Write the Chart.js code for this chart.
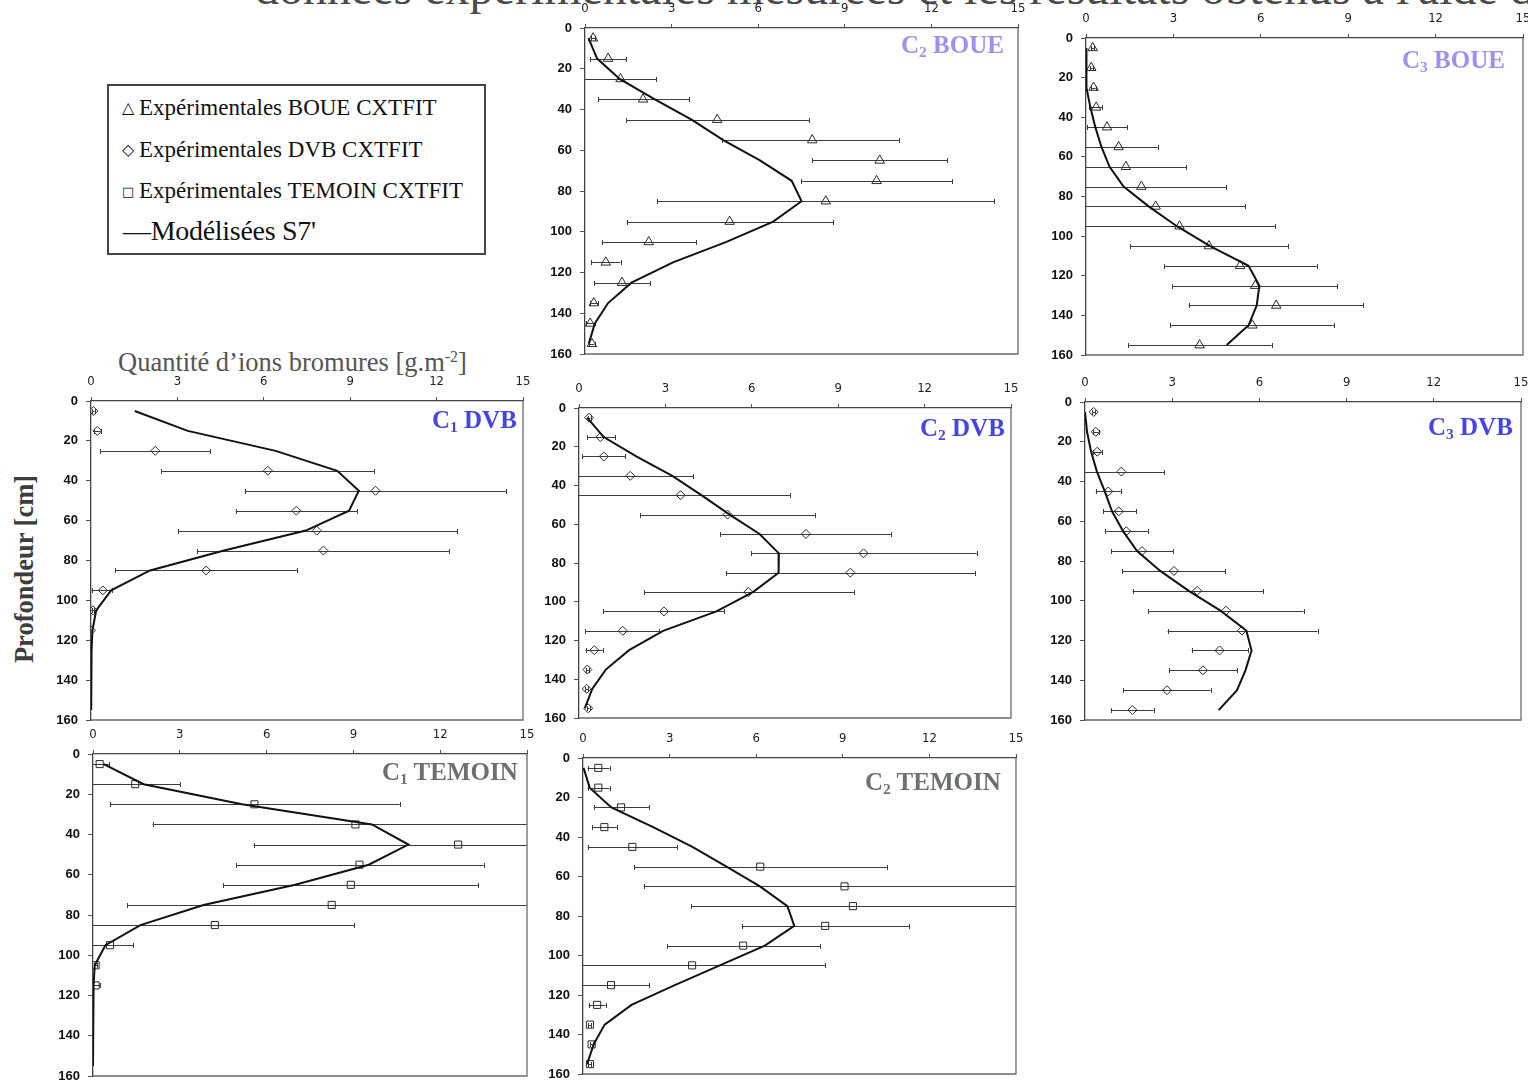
<!DOCTYPE html>
<html><head><meta charset="utf-8">
<script src="https://cdn.jsdelivr.net/npm/chart.js@4.4.1/dist/chart.umd.min.js"></script>
<style>
html,body{margin:0;padding:0;background:#fff}
body{width:1528px;height:1081px;position:relative;overflow:hidden;font-family:'Liberation Serif','Times New Roman',serif}
canvas{position:absolute}
.t{position:absolute;white-space:nowrap;line-height:1}
.pt{position:absolute;white-space:nowrap;line-height:1;font-weight:bold;font-size:25px;font-family:'Liberation Serif',serif}
.pt sub{font-size:0.62em;vertical-align:-0.28em;line-height:0}
.sym{font-family:'DejaVu Sans',sans-serif;display:inline-block;width:17px;line-height:0}
</style></head>
<body>
<div class="t" style="left:255px;top:-36px;font-size:48px;color:#4a4a4a">données expérimentales mesurées et les résultats obtenus à l'aide du modèle</div>

<div style="position:absolute;left:107px;top:84px;width:375px;height:167px;border:2px solid #444"></div>
<div class="t" style="left:122px;top:96px;font-size:23px;color:#111"><span class="sym" style="font-size:16px;vertical-align:2px">△</span>Expérimentales BOUE CXTFIT</div>
<div class="t" style="left:122px;top:138px;font-size:23px;color:#111"><span class="sym" style="font-size:16px;vertical-align:2px">◇</span>Expérimentales DVB CXTFIT</div>
<div class="t" style="left:122px;top:179px;font-size:23px;color:#111"><span class="sym" style="font-size:13px;vertical-align:2px">□</span>Expérimentales TEMOIN CXTFIT</div>
<div class="t" style="left:123px;top:217px;font-size:28px;color:#111;letter-spacing:-0.3px">—Modélisées S7'</div>

<div class="t" style="left:118px;top:349px;font-size:26.5px;color:#555">Quantité d’ions bromures [g.m<sup style="font-size:0.6em;vertical-align:0.55em;line-height:0">-2</sup>]</div>
<div class="t" style="left:-96px;top:554px;width:240px;height:30px;line-height:30px;text-align:center;font-size:26.5px;font-weight:bold;color:#3d3d3d;transform:rotate(-90deg)">Profondeur [cm]</div>

<script>
// ---------- data ----------
const depths = [5,15,25,35,45,55,65,75,85,95,105,115,125,135,145,155];
const xTicks = [0,3,6,9,12,15];
const yTicks = [0,20,40,60,80,100,120,140,160];

// C2 BOUE
const c2BoueObs   = [0.28,0.80,1.23,2.01,4.58,7.87,10.21,10.10,8.34,5.01,2.21,0.72,1.28,0.30,0.18,0.24];
const c2BoueLow   = [0.20,0.16,-0.01,0.45,1.43,4.76,7.88,7.49,2.50,1.46,0.58,0.22,0.32,0.18,0.02,0.15];
const c2BoueHigh  = [0.36,1.43,2.47,3.61,7.77,10.87,12.54,12.73,14.18,8.60,3.85,1.23,2.25,0.45,0.34,0.33];
const c2BoueModel = [0.12,0.42,1.20,2.42,3.69,4.79,6.06,7.16,7.50,6.52,4.90,3.05,1.61,0.80,0.34,0.13];
// C3 BOUE
const c3BoueObs   = [0.23,0.18,0.26,0.35,0.72,1.12,1.37,1.90,2.39,3.21,4.22,5.29,5.81,6.53,5.71,3.90];
const c3BoueLow   = [0.18,0.13,0.18,0.11,0.03,-0.22,-0.70,-1.00,-0.69,-0.08,1.50,2.69,2.95,3.52,2.89,1.44];
const c3BoueHigh  = [0.28,0.23,0.33,0.55,1.41,2.46,3.44,4.80,5.47,6.50,6.93,7.92,8.63,9.52,8.51,6.37];
const c3BoueModel = [0.00,0.00,0.03,0.15,0.32,0.53,0.81,1.29,2.15,3.12,4.26,5.58,5.95,5.86,5.58,4.83];
// C1 DVB
const c1DvbObs    = [0.08,0.22,2.23,6.14,9.88,7.13,7.84,8.07,4.00,0.41,0.07,0.00];
const c1DvbLow    = [0.03,0.12,0.32,2.44,5.34,5.02,3.02,3.68,0.84,0.02,0.02,-0.05];
const c1DvbHigh   = [0.13,0.34,4.13,9.83,14.40,9.25,12.72,12.43,7.15,0.73,0.12,0.05];
const c1DvbModel  = [1.52,3.36,6.41,8.55,9.30,8.96,7.46,4.62,2.05,0.70,0.18,0.05,0.02,0.01,0.01,0.00];
// C2 DVB
const c2DvbObs    = [0.35,0.74,0.86,1.78,3.53,5.16,7.88,9.88,9.42,5.88,2.95,1.52,0.53,0.29,0.27,0.32];
const c2DvbLow    = [0.30,0.29,0.10,-0.40,-0.28,2.13,4.91,5.98,5.10,2.26,0.83,0.21,0.23,0.24,0.22,0.27];
const c2DvbHigh   = [0.40,1.25,1.60,3.96,7.34,8.21,10.83,13.81,13.75,9.56,5.05,2.79,0.83,0.34,0.32,0.37];
const c2DvbModel  = [0.28,0.86,1.99,3.24,4.25,5.23,6.27,6.94,6.93,6.04,4.77,2.92,1.74,0.93,0.46,0.20];
// C3 DVB
const c3DvbObs    = [0.30,0.37,0.42,1.25,0.80,1.16,1.42,1.96,3.06,3.86,4.85,5.40,4.63,4.06,2.82,1.63];
const c3DvbLow    = [0.24,0.27,0.26,-0.22,0.37,0.62,0.68,0.89,1.28,1.64,2.17,2.84,3.67,2.90,1.31,0.88];
const c3DvbHigh   = [0.36,0.47,0.58,2.72,1.23,1.75,2.16,3.03,4.83,6.12,7.52,8.00,5.61,5.23,4.32,2.36];
const c3DvbModel  = [0.00,0.07,0.21,0.41,0.68,0.93,1.31,1.79,2.59,3.57,4.66,5.55,5.73,5.52,5.23,4.60];
// C1 TEMOIN
const c1TemObs    = [0.23,1.46,5.58,9.07,12.62,9.21,8.91,8.25,4.21,0.59,0.09,0.09];
const c1TemLow    = [-0.09,-0.10,0.58,2.06,5.55,4.94,4.49,1.18,-0.61,-0.20,0.04,-0.07];
const c1TemHigh   = [0.55,3.02,10.60,16.10,19.70,13.50,13.32,15.30,9.03,1.38,0.14,0.25];
const c1TemModel  = [0.37,1.75,5.15,9.64,10.90,9.53,6.99,3.82,1.64,0.43,0.06,0.02,0.00,0.00,0.00,0.00];
// C2 TEMOIN
const c2TemObs    = [0.53,0.53,1.32,0.74,1.71,6.14,9.06,9.35,8.39,5.55,3.78,0.97,0.49,0.24,0.30,0.24];
const c2TemLow    = [0.16,0.16,0.37,0.31,0.16,1.78,2.10,3.75,5.50,2.92,-0.83,-0.36,0.20,0.19,0.25,0.19];
const c2TemHigh   = [0.92,0.92,2.29,1.17,3.27,10.53,16.02,15.30,11.29,8.21,8.39,2.30,0.79,0.29,0.35,0.29];
const c2TemModel  = [0.02,0.23,0.98,2.43,3.79,4.97,6.13,7.08,7.32,6.30,4.74,3.18,1.68,0.75,0.37,0.14];

// ---------- drawing ----------
const X_MIN = 0, X_MAX = 15, Y_MIN = 0, Y_MAX = 160;
const PAD_L = 50, PAD_T = 30, PAD_R = 22, PAD_B = 20;

function panel(box, obs, lo, hi, model, pstyle, prad, title, tcolor, tRight, tBase) {
  const L = Math.round(box[0]), T = Math.round(box[1]), R = Math.round(box[2]), B = Math.round(box[3]);
  const w = (R - L) + PAD_L + PAD_R, h = (B - T) + PAD_T + PAD_B;
  const cv = document.createElement('canvas');
  cv.width = w; cv.height = h;
  cv.style.left = (L - PAD_L) + 'px'; cv.style.top = (T - PAD_T) + 'px';
  cv.style.width = w + 'px'; cv.style.height = h + 'px';
  document.body.appendChild(cv);

  const errPlugin = {
    id: 'errbars',
    beforeDatasetsDraw(chart) {
      const {ctx, scales: {x, y}} = chart;
      ctx.save();
      ctx.strokeStyle = '#3d3d3d';
      ctx.lineWidth = 1;
      for (let i = 0; i < obs.length; i++) {
        const yy = Math.round(y.getPixelForValue(depths[i])) + 0.5;
        const l = Math.max(lo[i], X_MIN), r = Math.min(hi[i], X_MAX);
        const x1 = x.getPixelForValue(l), x2 = x.getPixelForValue(r);
        ctx.beginPath();
        ctx.moveTo(x1, yy); ctx.lineTo(x2, yy);
        if (lo[i] >= X_MIN) { ctx.moveTo(Math.round(x1)+0.5, yy - 2.5); ctx.lineTo(Math.round(x1)+0.5, yy + 2.5); }
        if (hi[i] <= X_MAX) { ctx.moveTo(Math.round(x2)+0.5, yy - 2.5); ctx.lineTo(Math.round(x2)+0.5, yy + 2.5); }
        ctx.stroke();
      }
      ctx.restore();
    },
    afterDraw(chart) {
      const {ctx, chartArea: a} = chart;
      ctx.save();
      ctx.strokeStyle = '#6a6a6a';
      ctx.lineWidth = 1.3;
      ctx.beginPath();
      ctx.moveTo(a.right, a.top); ctx.lineTo(a.right, a.bottom); ctx.lineTo(a.left, a.bottom);
      ctx.stroke();
      ctx.restore();
    }
  };

  new Chart(cv, {
    type: 'scatter',
    data: {
      datasets: [
        {
          data: model.map((v, i) => ({x: v, y: depths[i]})),
          showLine: true, borderColor: '#111', borderWidth: 2, pointRadius: 0, tension: 0, order: 1
        },
        {
          data: obs.map((v, i) => ({x: v, y: depths[i]})),
          showLine: false, pointStyle: pstyle, pointRadius: prad, borderColor: '#2a2a2a',
          borderWidth: 1, backgroundColor: 'rgba(255,255,255,0)', order: 2
        }
      ]
    },
    options: {
      responsive: false, animation: false, events: [],
      layout: {padding: {left: 0, top: 0, right: PAD_R, bottom: PAD_B}},
      plugins: {legend: {display: false}, tooltip: {enabled: false}},
      scales: {
        x: {
          type: 'linear', position: 'top', min: X_MIN, max: X_MAX,
          afterBuildTicks: s => { s.ticks = xTicks.map(v => ({value: v})); },
          afterFit: s => { s.height = PAD_T; },
          ticks: {padding: 8, color: '#222', font: {family: "'Liberation Sans Narrow','DejaVu Sans Condensed',sans-serif", size: 13}},
          grid: {drawOnChartArea: false, drawTicks: true, tickLength: 4, color: '#555'},
          border: {color: '#444', width: 1.3}
        },
        y: {
          type: 'linear', reverse: true, min: Y_MIN, max: Y_MAX,
          afterBuildTicks: s => { s.ticks = yTicks.map(v => ({value: v})); },
          afterFit: s => { s.width = PAD_L; },
          ticks: {padding: 8, color: '#111', font: {family: "'Liberation Sans',Arial,sans-serif", size: 13, weight: 'bold'}},
          grid: {drawOnChartArea: false, drawTicks: true, tickLength: 5, color: '#555'},
          border: {color: '#444', width: 1.3}
        }
      }
    },
    plugins: [errPlugin]
  });

  const d = document.createElement('div');
  d.className = 'pt';
  d.style.color = tcolor;
  d.innerHTML = title;
  document.body.appendChild(d);
  d.style.left = (tRight - d.offsetWidth) + 'px';
  d.style.top = (tBase - 21) + 'px';
}

const BOUE = '#a08ef2', DVB = '#4545e6', TEM = '#6c706e';
panel([585.3, 28.3, 1018, 354], c2BoueObs, c2BoueLow, c2BoueHigh, c2BoueModel, 'triangle', 5.5, 'C<sub>2</sub> BOUE', BOUE, 1004, 53);
panel([1085.7, 38.3, 1523.3, 355.3], c3BoueObs, c3BoueLow, c3BoueHigh, c3BoueModel, 'triangle', 5.5, 'C<sub>3</sub> BOUE', BOUE, 1505, 68);
panel([90.6, 401, 523.3, 720], c1DvbObs, c1DvbLow, c1DvbHigh, c1DvbModel, 'rectRot', 4.5, 'C<sub>1</sub> DVB', DVB, 517, 428);
panel([579.3, 408.3, 1011.3, 718.3], c2DvbObs, c2DvbLow, c2DvbHigh, c2DvbModel, 'rectRot', 4.5, 'C<sub>2</sub> DVB', DVB, 1005, 436);
panel([1084.7, 401.7, 1520.7, 720], c3DvbObs, c3DvbLow, c3DvbHigh, c3DvbModel, 'rectRot', 4.5, 'C<sub>3</sub> DVB', DVB, 1513, 435);
panel([92.7, 754, 526.7, 1075.7], c1TemObs, c1TemLow, c1TemHigh, c1TemModel, 'rect', 5, 'C<sub>1</sub> TEMOIN', TEM, 518, 780);
panel([583.3, 758.3, 1015.7, 1074], c2TemObs, c2TemLow, c2TemHigh, c2TemModel, 'rect', 5, 'C<sub>2</sub> TEMOIN', TEM, 1001, 790);
</script>
</body></html>
